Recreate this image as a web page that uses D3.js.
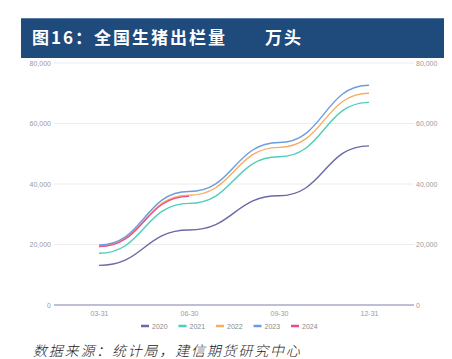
<!DOCTYPE html>
<html>
<head>
<meta charset="utf-8">
<script src="https://cdn.jsdelivr.net/npm/d3@7"></script>
<style>
  html, body { margin: 0; padding: 0; background: #fff; }
  svg { display: block; font-family: "Liberation Sans", Arial, sans-serif; }
  .tick text { fill: #9a9a9a; font-size: 7px; }
</style>
</head>
<body>
<svg id="chart" width="452" height="359"></svg>
<script>
const categories = ["03-31", "06-30", "09-30", "12-31"];
const years = ["2020", "2021", "2022", "2023", "2024"];
const colors = ["#6a6aa6", "#4fcfb5", "#f6ad63", "#6a9ede", "#ea4c8c"];
const values2020 = [13100, 24800, 36100, 52600];
const values2021 = [17100, 33600, 49000, 67000];
const values2022 = [19500, 36300, 52100, 70000];
const values2023 = [19850, 37500, 53700, 72650];
const values2024 = [19300, 35900];
const yTicks = [0, 20000, 40000, 60000, 80000];

const seriesValues = [values2020, values2021, values2022, values2023, values2024];
const series = years.map((name, i) => ({ name, color: colors[i], values: seriesValues[i] }));

const svg = d3.select("#chart");
const plotLeft = 54, plotRight = 414, plotTop = 63, plotBottom = 305;

// title bar
svg.append("rect").attr("x", 21).attr("y", 18).attr("width", 423).attr("height", 40).attr("fill", "#1f4a7c");
svg.append("line").attr("x1", 21).attr("x2", 444).attr("y1", 18.5).attr("y2", 18.5).attr("stroke", "#5a7aa6");
const titleFont = (sel) => sel
  .attr("fill", "#fff")
  .attr("font-family", "'Noto Sans CJK SC', sans-serif")
  .attr("font-weight", "bold")
  .attr("font-size", 17)
  .attr("letter-spacing", 2);
svg.append("text").attr("x", 32).attr("y", 44).call(titleFont).text("图16：全国生猪出栏量");
svg.append("text").attr("x", 265).attr("y", 44).call(titleFont).text("万头");

const x = d3.scalePoint().domain(categories).range([plotLeft + 45, plotRight - 45]);
const y = d3.scaleLinear().domain([0, 80000]).range([plotBottom, plotTop]);

// grid
svg.append("g").selectAll("line").data(yTicks.slice(1)).join("line")
  .attr("x1", plotLeft).attr("x2", plotRight)
  .attr("y1", d => y(d)).attr("y2", d => y(d))
  .attr("stroke", "#ececec").attr("stroke-width", 1);

const fmt = d3.format(",");
const axisL = svg.append("g").attr("transform", `translate(${plotLeft - 2},0)`)
  .call(d3.axisLeft(y).tickValues(yTicks).tickFormat(fmt).tickSize(0).tickPadding(1));
const axisR = svg.append("g").attr("transform", `translate(${plotRight + 1},0)`)
  .call(d3.axisRight(y).tickValues(yTicks).tickFormat(fmt).tickSize(0).tickPadding(1));
[axisL, axisR].forEach(a => a.select(".domain").remove());

// baseline
svg.append("line").attr("x1", plotLeft).attr("x2", plotRight)
  .attr("y1", y(0)).attr("y2", y(0))
  .attr("stroke", "#a9a9c6").attr("stroke-width", 1.5);

const axisB = svg.append("g").attr("transform", `translate(0,${plotBottom})`)
  .call(d3.axisBottom(x).tickSize(0).tickPadding(6));
axisB.select(".domain").remove();

const line = d3.line()
  .x((d, i) => x(categories[i]))
  .y(d => y(d))
  .curve(d3.curveBumpX);

svg.append("g").selectAll("path").data(series).join("path")
  .attr("d", d => line(d.values))
  .attr("fill", "none")
  .attr("stroke", d => d.color)
  .attr("stroke-width", 1.4);

// legend
const legend = svg.append("g").selectAll("g").data(series).join("g")
  .attr("transform", (d, i) => `translate(${141 + i * 37.5},326)`);
legend.append("line").attr("x1", 0).attr("x2", 8).attr("y1", 0).attr("y2", 0)
  .attr("stroke", d => d.color).attr("stroke-width", 2.5);
legend.append("text").attr("x", 11).attr("y", 2.5)
  .attr("fill", "#8a8a8a").attr("font-size", 7).text(d => d.name);

// source
svg.append("text")
  .attr("x", 33).attr("y", 356)
  .attr("fill", "#222")
  .attr("font-family", "'Noto Sans CJK SC', sans-serif")
  .attr("font-style", "italic")
  .attr("font-weight", 300)
  .attr("font-size", 14)
  .attr("letter-spacing", 1.8)
  .text("数据来源：统计局，建信期货研究中心");
</script>
</body>
</html>
